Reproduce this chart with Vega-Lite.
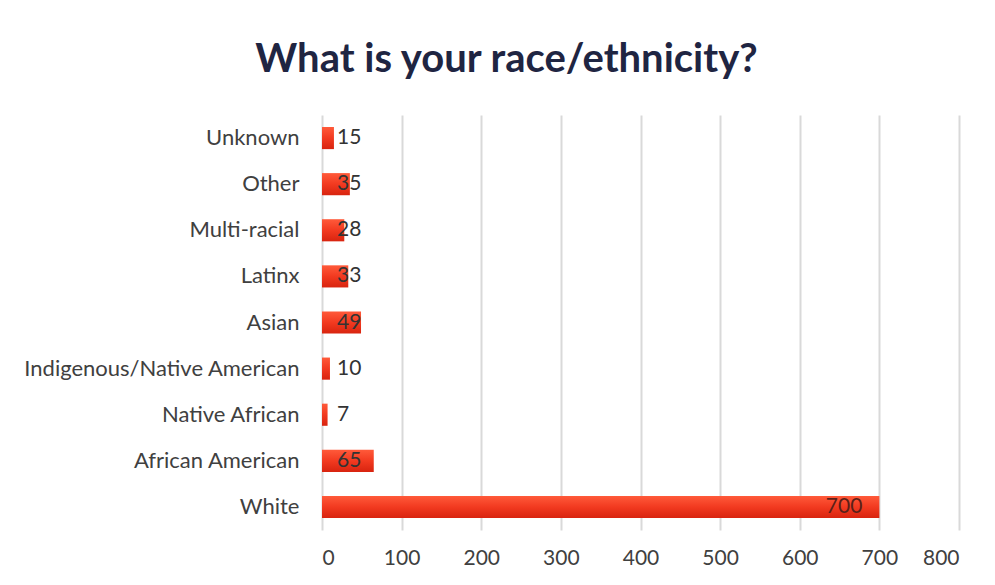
{
  "$schema": "https://vega.github.io/schema/vega-lite/v6.json",
  "autosize": "none",
  "width": 637,
  "height": 415,
  "padding": {"left": 322, "top": 115, "right": 36, "bottom": 55},
  "background": "white",
  "title": {
    "text": "What is your race/ethnicity?",
    "fontSize": 40,
    "font": "Lato",
    "fontWeight": "bold",
    "color": "#1f2542",
    "anchor": "middle",
    "dx": -134,
    "offset": 35
  },
  "data": {
    "values": [
      {"category": "Unknown", "count": 15},
      {"category": "Other", "count": 35},
      {"category": "Multi-racial", "count": 28},
      {"category": "Latinx", "count": 33},
      {"category": "Asian", "count": 49},
      {"category": "Indigenous/Native American", "count": 10},
      {"category": "Native African", "count": 7},
      {"category": "African American", "count": 65},
      {"category": "White", "count": 700}
    ]
  },
  "encoding": {
    "y": {
      "field": "category",
      "type": "nominal",
      "sort": null,
      "scale": {"paddingInner": 0.52, "paddingOuter": 0.26},
      "axis": {
        "title": null,
        "ticks": false,
        "domain": false,
        "labelFontSize": 22,
        "labelFont": "Lato",
        "labelColor": "#404040",
        "labelPadding": 23,
        "labelLimit": 400
      }
    }
  },
  "layer": [
    {
      "mark": {
        "type": "bar",
        "color": {
          "gradient": "linear",
          "x1": 0, "y1": 0, "x2": 0, "y2": 1,
          "stops": [
            {"offset": 0, "color": "#ff5a3a"},
            {"offset": 0.5, "color": "#f23a20"},
            {"offset": 1, "color": "#d8240f"}
          ]
        }
      },
      "encoding": {
        "x": {
          "field": "count",
          "type": "quantitative",
          "scale": {"domain": [0, 800]},
          "axis": {
            "title": null,
            "values": [0, 100, 200, 300, 400, 500, 600, 700, 800],
            "ticks": false,
            "domain": false,
            "grid": true,
            "gridColor": "#d9d9d9",
            "gridWidth": 2,
            "labelFontSize": 21,
            "labelFont": "Lato",
            "labelColor": "#404040",
            "labelPadding": 17
          }
        }
      }
    },
    {
      "transform": [{"filter": "datum.count < 100"}],
      "mark": {"type": "text", "align": "left", "baseline": "middle", "dx": 15, "fontSize": 21, "font": "Lato", "color": "#333333"},
      "encoding": {
        "x": {"datum": 0, "type": "quantitative"},
        "text": {"field": "count", "type": "quantitative"}
      }
    },
    {
      "transform": [{"filter": "datum.count >= 100"}],
      "mark": {"type": "text", "align": "right", "baseline": "middle", "dx": -17, "fontSize": 21, "font": "Lato", "color": "#5a2018"},
      "encoding": {
        "x": {"field": "count", "type": "quantitative"},
        "text": {"field": "count", "type": "quantitative"}
      }
    }
  ],
  "config": {"view": {"stroke": null}}
}
